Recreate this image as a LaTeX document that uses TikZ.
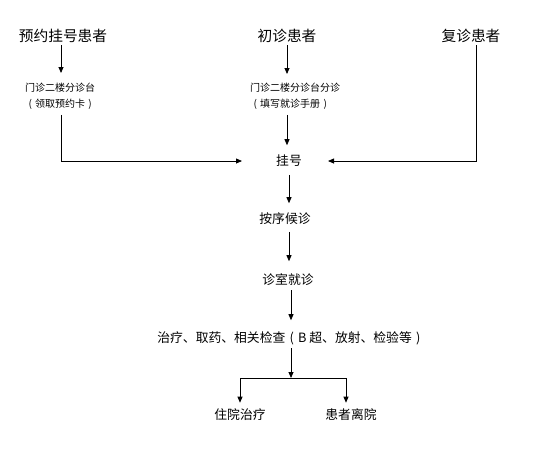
\documentclass[tikz,border=0pt]{standalone}
\usepackage{fontspec}
\setmainfont{Noto Sans CJK SC}
\usetikzlibrary{arrows.meta}
\newcommand\fwl{\makebox[1em]{(}}
\newcommand\fwr{\makebox[1em]{)}}
\begin{document}
\begin{tikzpicture}[x=1pt,y=-1pt,
  head/.style={inner sep=0pt, font=\fontsize{14.7}{16}\selectfont, text height=11.8pt, text depth=1.2pt},
  mainlbl/.style={inner sep=0pt, font=\fontsize{12.8}{15}\selectfont, text height=10.2pt, text depth=1pt},
  small/.style={inner sep=0pt, font=\fontsize{10}{16}\selectfont, align=left},
  arr/.style={line width=0.8pt, -{Triangle[length=6pt,width=5pt]}},
  ln/.style={line width=0.8pt}]
\useasboundingbox (0,0) rectangle (539,448);
\fill[white] (0,0) rectangle (539,448);
% headers
\node[head] (n1) at (63,36) {预约挂号患者};
\node[head] (n2) at (287,36) {初诊患者};
\node[head] (n3) at (471,36) {复诊患者};
% desks
\node[small, anchor=north west] (s1) at (25,83) {门诊二楼分诊台\\\fwl 领取预约卡\fwr};
\node[small, anchor=north west] (s2) at (250,83) {门诊二楼分诊台分诊\\\fwl 填写就诊手册\fwr};
% main chain
\node[mainlbl] (g) at (289,161) {挂号};
\node[mainlbl] (h) at (285,219) {按序候诊};
\node[mainlbl] (z) at (288,280) {诊室就诊};
\node[mainlbl] (t) at (291,338) {治疗、取药、相关检查\fwl B 超、放射、检验等\fwr};
\node[mainlbl] (zy) at (240,415) {住院治疗};
\node[mainlbl] (lx) at (351,415) {患者离院};
\coordinate (j) at (291,378);
% connectors
\draw[arr, shorten <=2.5pt, shorten >=10pt] ([xshift=-2pt]n1.south) -- ([xshift=-2pt]n1.south |- s1.north);
\draw[arr, shorten <=5pt, shorten >=34pt] ([xshift=-2pt]n1.south |- s1.south) |- (g.west);
\draw[arr, shorten <=2.5pt, shorten >=9pt] (n2.south) -- (n2.south |- s2.north);
\draw[arr, shorten <=5pt, shorten >=10pt] (n2.south |- s2.south) -- (n2.south |- g.north);
\draw[arr, shorten <=2.5pt, shorten >=26pt] ([xshift=5pt]n3.south) |- (g.east);
\draw[arr, shorten <=8pt, shorten >=10pt] (g.south) -- (g.south |- h.north);
\draw[arr, shorten <=7pt, shorten >=13pt] (g.south |- h.south) -- (g.south |- z.north);
\draw[arr, shorten <=4.5pt, shorten >=12pt] (t.south |- z.south) -- (t.south |- t.north);
\draw[arr, shorten <=4.5pt] (t.south) -- (j);
\draw[arr, shorten >=6.5pt] (j) -| (zy.north);
\draw[arr, shorten >=6.5pt] (j) -| ([xshift=-5pt]lx.north);
\end{tikzpicture}
\end{document}
